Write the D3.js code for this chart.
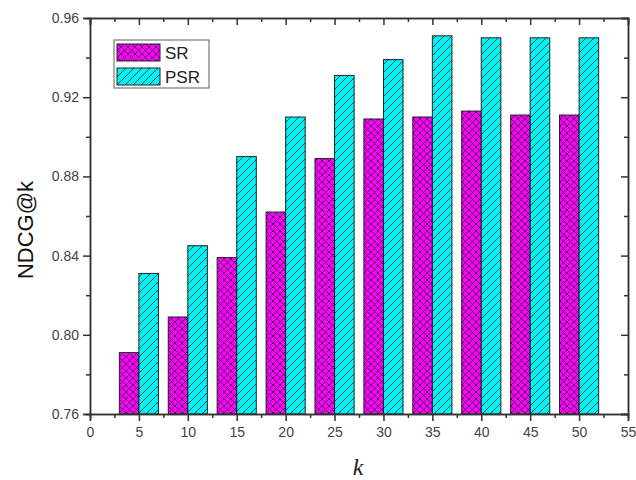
<!DOCTYPE html>
<html>
<head>
<meta charset="utf-8">
<script src="https://cdn.jsdelivr.net/npm/d3@7"></script>
<style>
  body { margin: 0; background: #fff; }
  svg text { font-family: Arial, "Liberation Sans", sans-serif; }
</style>
</head>
<body>
<div id="chart"></div>
<script>
var width = 636, height = 480;

// data
var kValues = [5, 10, 15, 20, 25, 30, 35, 40, 45, 50];
var srValues = [0.791, 0.809, 0.839, 0.862, 0.889, 0.909, 0.910, 0.913, 0.911, 0.911];
var psrValues = [0.831, 0.845, 0.890, 0.910, 0.931, 0.939, 0.951, 0.950, 0.950, 0.950];
var seriesNames = ["SR", "PSR"];
var yTickLabels = [0.76, 0.80, 0.84, 0.88, 0.92, 0.96];
var xTickLabels = [0, 5, 10, 15, 20, 25, 30, 35, 40, 45, 50, 55];

var margin = {left: 90, right: 8, top: 18, bottom: 66};

var svg = d3.select('#chart')
  .append('svg')
  .attr('width', width)
  .attr('height', height);

var defs = svg.append('defs');

// crosshatch for SR
var p1 = defs.append('pattern')
  .attr('id', 'crossHatch')
  .attr('patternUnits', 'userSpaceOnUse')
  .attr('width', 7).attr('height', 7);
p1.append('rect').attr('width', 7).attr('height', 7).attr('fill', '#ff00ff');
p1.append('path')
  .attr('d', 'M0,0 L7,7 M-2,5 L2,9 M5,-2 L9,2 M0,7 L7,0 M-2,2 L2,-2 M5,9 L9,5')
  .attr('stroke', '#3a1040').attr('stroke-width', 0.9).attr('fill', 'none');

// diagonal lines for PSR
var p2 = defs.append('pattern')
  .attr('id', 'diagHatch')
  .attr('patternUnits', 'userSpaceOnUse')
  .attr('width', 8).attr('height', 8);
p2.append('rect').attr('width', 8).attr('height', 8).attr('fill', '#00f4f4');
p2.append('path')
  .attr('d', 'M0,8 L8,0 M-2,2 L2,-2 M6,10 L10,6')
  .attr('stroke', '#1a4a55').attr('stroke-width', 1).attr('fill', 'none');

var x = d3.scaleLinear()
  .domain([0, 55])
  .range([margin.left, width - margin.right]);

var y = d3.scaleLinear()
  .domain([0.76, 0.96])
  .range([height - margin.bottom, margin.top]);

var barW = 2; // in k units

var g = svg.append('g');

// SR bars (left of k)
g.selectAll('rect.sr')
  .data(kValues)
  .enter().append('rect')
  .attr('class', 'sr')
  .attr('x', function(d) { return x(d - barW); })
  .attr('width', function(d) { return x(d) - x(d - barW); })
  .attr('y', function(d, i) { return y(srValues[i]); })
  .attr('height', function(d, i) { return y(0.76) - y(srValues[i]); })
  .attr('fill', 'url(#crossHatch)')
  .attr('stroke', '#222')
  .attr('stroke-width', 1);

// PSR bars (right of k)
g.selectAll('rect.psr')
  .data(kValues)
  .enter().append('rect')
  .attr('class', 'psr')
  .attr('x', function(d) { return x(d); })
  .attr('width', function(d) { return x(d + barW) - x(d); })
  .attr('y', function(d, i) { return y(psrValues[i]); })
  .attr('height', function(d, i) { return y(0.76) - y(psrValues[i]); })
  .attr('fill', 'url(#diagHatch)')
  .attr('stroke', '#222')
  .attr('stroke-width', 1);

var axisColor = '#333';
var minorX = d3.range(2.5, 55, 5);
var minorY = [0.78, 0.82, 0.86, 0.90, 0.94];

// bottom axis
svg.append('g')
  .attr('transform', 'translate(0,' + y(0.76) + ')')
  .call(d3.axisBottom(x).tickValues(xTickLabels).tickSize(7).tickPadding(6).tickFormat(d3.format('d')));
svg.append('g')
  .attr('transform', 'translate(0,' + y(0.76) + ')')
  .call(d3.axisBottom(x).tickValues(minorX).tickSize(4).tickFormat(''));

// left axis
svg.append('g')
  .attr('transform', 'translate(' + x(0) + ',0)')
  .call(d3.axisLeft(y).tickValues(yTickLabels).tickSize(7).tickPadding(4).tickFormat(d3.format('.2f')));
svg.append('g')
  .attr('transform', 'translate(' + x(0) + ',0)')
  .call(d3.axisLeft(y).tickValues(minorY).tickSize(4).tickFormat(''));

// top axis (ticks inward)
svg.append('g')
  .attr('transform', 'translate(0,' + y(0.96) + ')')
  .call(d3.axisBottom(x).tickValues(xTickLabels).tickSize(7).tickFormat(''));
svg.append('g')
  .attr('transform', 'translate(0,' + y(0.96) + ')')
  .call(d3.axisBottom(x).tickValues(minorX).tickSize(4).tickFormat(''));

// right axis (ticks inward)
svg.append('g')
  .attr('transform', 'translate(' + x(55) + ',0)')
  .call(d3.axisLeft(y).tickValues(yTickLabels).tickSize(7).tickFormat(''));
svg.append('g')
  .attr('transform', 'translate(' + x(55) + ',0)')
  .call(d3.axisLeft(y).tickValues(minorY).tickSize(4).tickFormat(''));

svg.selectAll('.domain, .tick line').attr('stroke', axisColor).attr('stroke-width', 1.5);
svg.selectAll('.tick text').attr('fill', '#444').style('font-size', '14px');

// axis titles
svg.append('text')
  .attr('transform', 'translate(33,230)rotate(-90)')
  .attr('text-anchor', 'middle')
  .style('font-size', '22px')
  .attr('fill', '#111')
  .text('NDCG@k');

svg.append('text')
  .attr('x', 358)
  .attr('y', 475)
  .attr('text-anchor', 'middle')
  .style('font-family', '"Liberation Serif", "DejaVu Serif", serif')
  .style('font-style', 'italic')
  .style('font-size', '24px')
  .attr('fill', '#222')
  .text('k');

// legend
var legend = svg.append('g').attr('transform', 'translate(114,40)');
legend.append('rect')
  .attr('width', 95).attr('height', 48)
  .attr('fill', '#fff')
  .attr('stroke', '#777').attr('stroke-width', 1.2);
var fills = ['url(#crossHatch)', 'url(#diagHatch)'];
seriesNames.forEach(function(name, i) {
  legend.append('rect')
    .attr('x', 3).attr('y', 4 + i * 24)
    .attr('width', 43).attr('height', 17)
    .attr('fill', fills[i])
    .attr('stroke', '#222');
  legend.append('text')
    .attr('x', 51).attr('y', 19 + i * 24)
    .style('font-size', '17px')
    .attr('fill', '#222')
    .text(name);
});
</script>
</body>
</html>
